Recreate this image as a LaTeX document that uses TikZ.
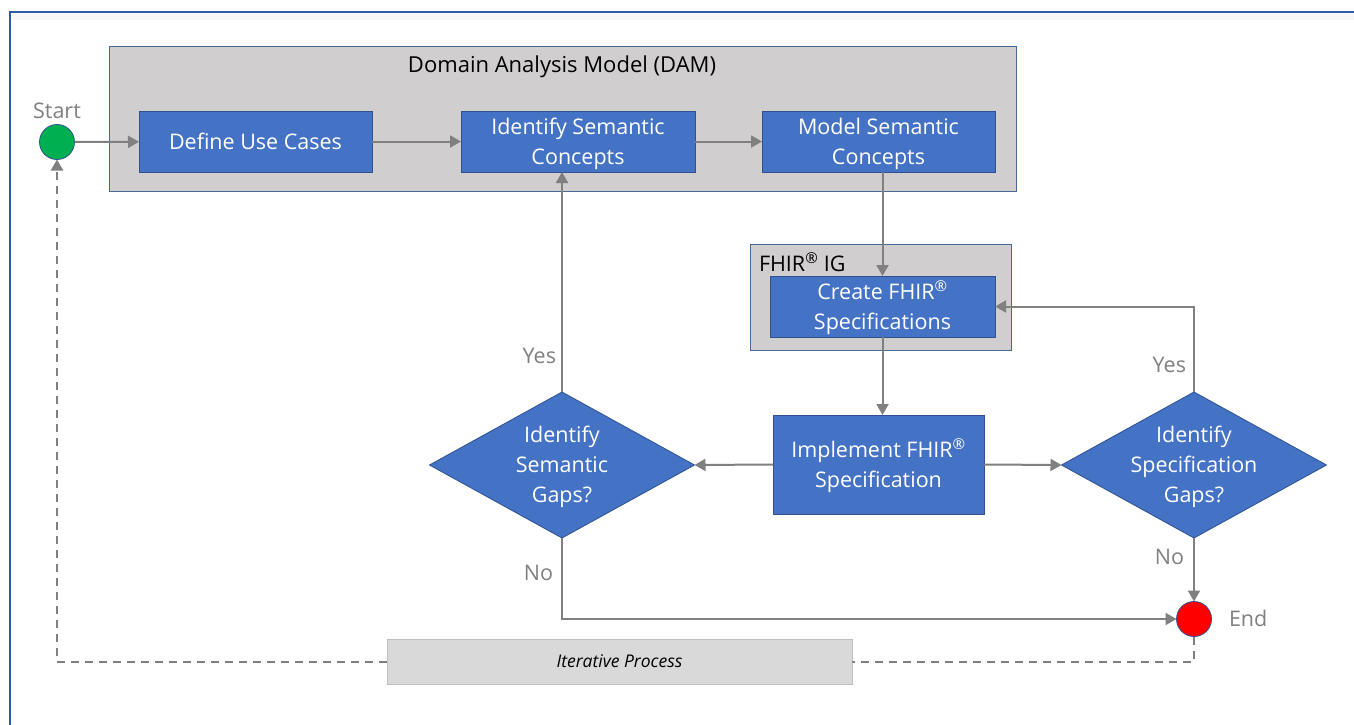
\documentclass[tikz,border=0pt]{standalone}
\usepackage{fontspec}
\setmainfont{Open Sans}
\usetikzlibrary{arrows.meta,shapes.geometric}
\definecolor{boxblue}{HTML}{4472C4}
\definecolor{boxedge}{HTML}{2F528F}
\definecolor{grpfill}{HTML}{D0CECE}
\definecolor{grpedge}{HTML}{4A6A96}
\definecolor{linegray}{HTML}{808080}
\definecolor{framblue}{HTML}{2E5AA8}
\definecolor{ipfill}{HTML}{D9D9D9}
\definecolor{ipedge}{HTML}{BFBFBF}
\definecolor{startgreen}{HTML}{00B050}
\tikzset{
  x=1pt, y=-1pt,
  every node/.style={inner sep=0pt, outer sep=0pt},
  stepbox/.style={draw=boxedge, line width=1pt, fill=boxblue, text=white,
    align=center, font=\fontsize{21.5}{30}\selectfont},
  decision/.style={diamond, draw=boxedge, line width=0.8pt, fill=boxblue,
    minimum width=265pt, minimum height=146pt, aspect=1.8},
  dtext/.style={text=white, align=center, font=\fontsize{21.5}{30}\selectfont},
  group/.style={draw=grpedge, line width=1pt, fill=grpfill},
  conn/.style={draw=linegray, line width=2pt, -{Triangle[width=12pt,length=11pt]}},
  dashconn/.style={draw=linegray, line width=2pt, dash pattern=on 8pt off 6pt},
  lbl/.style={text=linegray, font=\fontsize{21.5}{26}\selectfont},
  terminal/.style={circle, draw=boxedge, line width=0.8pt, minimum size=35pt},
}
\begin{document}
\begin{tikzpicture}
\useasboundingbox (0,0) rectangle (1354,725);
\fill[white] (0,0) rectangle (1354,725);
% outer frame
\fill[black!3] (12,13) rectangle (1354,20);
\draw[framblue, line width=2pt] (10,725) -- (10,12) -- (1354,12);

% groups
\node[group, minimum width=907pt, minimum height=144pt, anchor=north west] (dam) at (109,47) {};
\node[anchor=north, font=\fontsize{22}{26}\selectfont] (damt) at (562,56) {Domain Analysis Model (DAM)};
\node[group, minimum width=261pt, minimum height=106pt, anchor=north west] (ig) at (750,244) {};
\node[anchor=north west, font=\fontsize{21.5}{26}\selectfont] (igt) at (759,253) {FHIR\textsuperscript{®} IG};

% steps
\node[stepbox, minimum width=233pt, minimum height=61pt] (use) at (255.5,141.5) {Define Use Cases};
\node[stepbox, minimum width=234pt, minimum height=61pt] (isc) at (578,141.5) {\strut Identify Semantic\\Concepts};
\node[stepbox, minimum width=233pt, minimum height=61pt] (msc) at (878.5,141.5) {\strut Model Semantic\\Concepts};
\node[stepbox, minimum width=225pt, minimum height=61pt] (cfs) at (882.5,306.5) {\strut Create FHIR\textsuperscript{®}\\Specifications};
\node[stepbox, minimum width=211pt, minimum height=99pt] (impl) at (878.5,464.5) {\strut Implement FHIR\textsuperscript{®}\\Specification};
\node[decision] (dl) at (562,465) {};
\node[dtext] (dlt) at (dl.center) {\strut Identify\\Semantic\\Gaps?};
\node[decision] (dr) at (1194,465) {};
\node[dtext] (drt) at (dr.center) {\strut Identify\\Specification\\Gaps?};

% terminals
\node[terminal, fill=startgreen] (start) at (57,142) {};
\node[terminal, fill=red] (end) at (1194,619) {};
\node[lbl] (startl) at (57,111) {Start};
\node[lbl, anchor=west] (endl) at (1229,618) {End};

% iterative process
\node[draw=ipedge, line width=1pt, fill=ipfill, minimum width=465pt, minimum height=45pt,
  font=\fontsize{17.5}{20}\selectfont\itshape] (ip) at (619.5,661.5) {Iterative Process};

% connectors
\draw[conn] (start) -- (use);
\draw[conn] (use) -- (isc);
\draw[conn] (isc) -- (msc);
\draw[conn] (cfs.north |- msc.south) -- (cfs.north);
\draw[conn] (cfs.south) -- (cfs.south |- impl.north);
\draw[conn] (impl.west) -- (dl.east);
\draw[conn] (impl.east) -- (dr.west);
\draw[conn] (dl.north) -- (dl.north |- isc.south);
\draw[conn] (dr.north) |- (cfs.east);
\draw[conn] (dr.south) -- (end.north);
\draw[conn] (dl.south) |- (end.west);
\draw[dashconn] (end.south) |- (ip.east);
\draw[dashconn, -{Triangle[width=12pt,length=11pt]}] (ip.west) -| (start.south);

% labels on connectors
\node[lbl, anchor=east] (yl) at (556,356) {Yes};
\node[lbl, anchor=east] (yr) at (1186,365) {Yes};
\node[lbl, anchor=east] (nl) at (553,573) {No};
\node[lbl, anchor=east] (nr) at (1184,557) {No};
\end{tikzpicture}
\end{document}
